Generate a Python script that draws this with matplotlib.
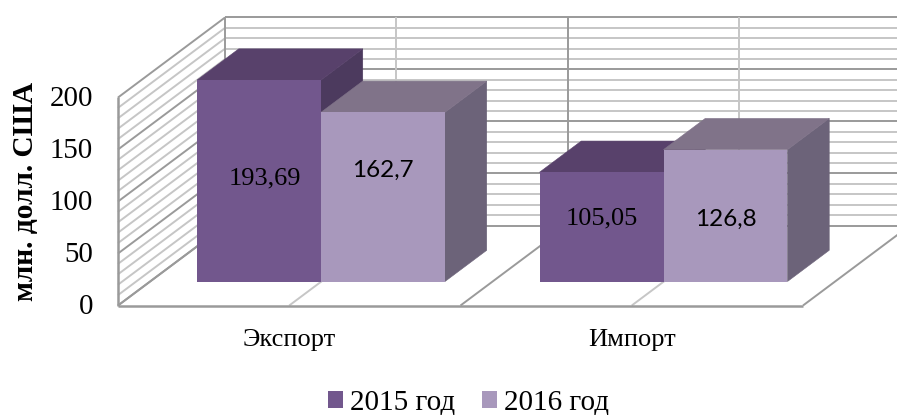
#%% Imports
import matplotlib
matplotlib.use('Agg')
import matplotlib.pyplot as plt
from matplotlib.patches import Polygon, Patch

#%% Data
categories = ['Экспорт', 'Импорт']
series_names = ['2015 год', '2016 год']
values_2015 = [193.69, 105.05]
values_2016 = [162.7, 126.8]
labels_2015 = ['193,69', '105,05']
labels_2016 = ['162,7', '126,8']
y_ticks = [0, 50, 100, 150, 200]

#%% Scales and colours
px_per_cat = 342.5
px_per_val = 1.04
x0_px, y0_px = 118, 305.5
depth_x = 107 / px_per_cat
depth_y = 80 / px_per_val
d_front, d_back = 0.3, 0.69
bar_w = 0.362
bar_start = 0.137

colors_2015 = ('#72578D', '#58416B', '#4C3A5E')
colors_2016 = ('#A898BC', '#807389', '#6C6379')
grid_major = '#9a9a9a'
grid_minor = '#c6c6c6'

# hand placed label shifts, in value units and category units
shift_2015 = [2.5, 8.5]
shift_2016 = [26, -4]
xshift_2015 = [0.017, 0]

def proj(c, d, v):
    return c + d * depth_x, v + d * depth_y

def seg(a, b, col, lw=1.4):
    xs, ys = zip(a, b)
    ax.plot(xs, ys, color=col, lw=lw, zorder=1, solid_capstyle='butt')

#%% Figure, one axes over the whole canvas
fig = plt.figure(figsize=(8.97, 4.15), dpi=100)
ax = fig.add_axes([0, 0, 1, 1])
ax.set_xlim(-x0_px / px_per_cat, (897 - x0_px) / px_per_cat)
ax.set_ylim((y0_px - 415) / px_per_val, y0_px / px_per_val)
ax.axis('off')

#%% Walls and floor grid
for v in range(0, 201, 10):
    col = grid_major if v % 50 == 0 else grid_minor
    seg(proj(0, 1, v), proj(3, 1, v), col)
    seg(proj(0, 0, v), proj(0, 1, v), col)

for c in [0.5, 1, 1.5, 2]:
    col = grid_major if c in (1, 2) else grid_minor
    seg(proj(c, 0, 0), proj(c, 1, 0), col)
    seg(proj(c, 1, 0), proj(c, 1, 200), col)

seg(proj(0, 1, 0), proj(0, 1, 200), grid_major)
seg(proj(0, 0, 0), proj(0, 0, 200), grid_major, 1.8)
seg(proj(0, 0, 0), proj(2, 0, 0), grid_major, 1.8)
seg(proj(0, 0, 0), proj(0, 1, 0), grid_major)

#%% Bars
z = 3
for s, (vals, cols, labs, shifts) in enumerate([(values_2015, colors_2015, labels_2015, shift_2015),
                                                (values_2016, colors_2016, labels_2016, shift_2016)]):
    for i, v in enumerate(vals):
        left = i + bar_start + s * bar_w
        right = left + bar_w
        # side face
        ax.add_patch(Polygon([proj(right, d_front, 0), proj(right, d_back, 0),
                              proj(right, d_back, v), proj(right, d_front, v)],
                             facecolor=cols[2], edgecolor=cols[2], lw=0.4, zorder=z))
        # top face
        ax.add_patch(Polygon([proj(left, d_front, v), proj(right, d_front, v),
                              proj(right, d_back, v), proj(left, d_back, v)],
                             facecolor=cols[1], edgecolor=cols[1], lw=0.4, zorder=z))
        # front face
        fx, fy = proj(left, d_front, 0)
        ax.bar(fx, v, bottom=fy, width=bar_w, align='edge', color=cols[0], zorder=z)
        tx, ty = proj(left + bar_w / 2, d_front, v / 2 + shifts[i])
        if s == 0:
            ax.text(tx + xshift_2015[i], ty, labs[i], ha='center', va='center', zorder=z + 1,
                    family='Liberation Serif', fontsize=19, color='black')
        else:
            ax.text(tx, ty, labs[i], ha='center', va='center', zorder=z + 1,
                    family='Lato', fontsize=17.5, color='black')
        z += 1

#%% Tick labels and axis title
for v in y_ticks:
    ax.text(-0.073, v - 1.5, str(v), ha='right', va='center',
            family='Liberation Serif', fontsize=20.8)
ax.text(-0.2715, 110, 'млн. долл. США', rotation=90, ha='center', va='center',
        family='Liberation Serif', fontsize=21.2, fontweight='bold')
for i, name in enumerate(categories):
    ax.text(i + 0.5, -33, name, ha='center', va='center',
            family='Liberation Serif', fontsize=19)

#%% Legend
handles = [Patch(facecolor=colors_2015[0], label=series_names[0]),
           Patch(facecolor=colors_2016[0], label=series_names[1])]
ax.legend(handles=handles, ncol=2, loc='center', bbox_to_anchor=(0.522, 0.03),
          frameon=False, handlelength=0.51, handleheight=0.51, handletextpad=0.24,
          columnspacing=0.92, borderpad=0, borderaxespad=0,
          prop={'family': 'Liberation Serif', 'size': 21})

plt.savefig('out.png', dpi=100)
